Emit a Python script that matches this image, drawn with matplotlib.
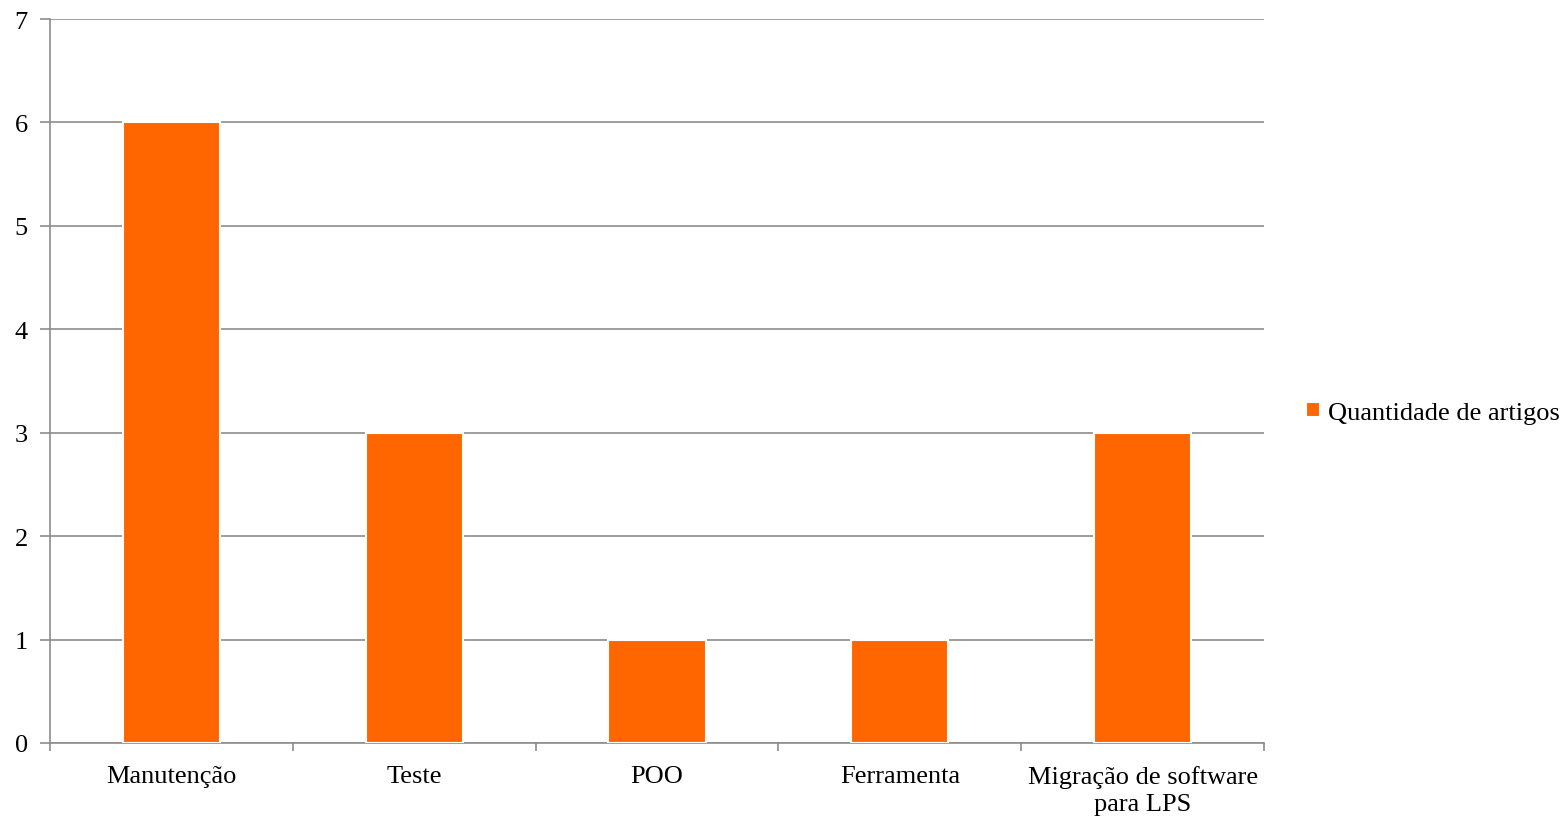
import matplotlib.pyplot as plt
import numpy as np

categories = ['Manutenção', 'Teste', 'POO', 'Ferramenta', 'Migração de software\npara LPS']
values = [6, 3, 1, 1, 3]
series_name = 'Quantidade de artigos'

plt.rcParams['font.family'] = ['Liberation Serif', 'DejaVu Serif']

fig = plt.figure(figsize=(15.66, 8.2), dpi=100)
ax = fig.add_axes([50 / 1566, 76 / 820, 1214 / 1566, 724 / 820])

x = np.arange(len(categories))
ax.bar(x, values, width=0.4, color='#ff6600', edgecolor='white', linewidth=1.5,
       label=series_name, zorder=3)

ax.set_xlim(-0.5, len(categories) - 0.5)
ax.set_ylim(0, 7)
ax.set_yticks(range(0, 8))
ax.grid(axis='y', color='#8c8c8c', linewidth=1.2, zorder=0)

ax.set_xticks(x)
ax.set_xticklabels(categories, fontsize=19, linespacing=1.3)
ax.set_xticks(np.arange(-0.5, len(categories)), minor=True)
ax.tick_params(axis='x', which='major', length=0, pad=16)
ax.tick_params(axis='x', which='minor', length=6, color='#8c8c8c', width=1.2)
ax.tick_params(axis='y', length=7, color='#8c8c8c', width=1.2, labelsize=19, pad=9)

for side in ['top', 'right']:
    ax.spines[side].set_visible(False)
for side in ['left', 'bottom']:
    ax.spines[side].set_color('#8c8c8c')
    ax.spines[side].set_linewidth(1.2)

ax.legend(loc='center left', bbox_to_anchor=(1.035, 0.456), frameon=False,
          fontsize=19, handlelength=0.5, handleheight=0.5, handletextpad=0.3,
          borderaxespad=0, borderpad=0)

fig.savefig('out.png', dpi=100)
